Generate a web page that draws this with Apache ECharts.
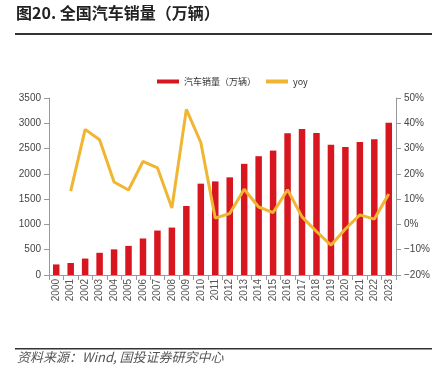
<!DOCTYPE html>
<html>
<head>
<meta charset="utf-8">
<script src="https://cdn.jsdelivr.net/npm/echarts@6/dist/echarts.min.js"></script>
<style>html,body{margin:0;padding:0;background:#fff;}#c{width:442px;height:381px;}</style>
</head>
<body>
<div id="c"></div>
<script>
const years = ['2000','2001','2002','2003','2004','2005','2006','2007','2008','2009','2010','2011','2012','2013','2014','2015','2016','2017','2018','2019','2020','2021','2022','2023'];
const sales = [209,237,325,439,507,576,722,879,938,1364,1806,1851,1931,2198,2349,2460,2803,2888,2808,2577,2531,2628,2686,3009];
const yoy = [null,13.2,37.6,33.5,16.8,13.6,24.9,22.4,6.5,45.5,32.4,2.5,4.3,13.9,6.9,4.7,13.7,3.0,-2.8,-8.2,-1.8,3.8,2.1,12.0];
const leftTicks = [0,3500,500];
const rightTicks = [-20,50,10];

const chart = echarts.init(document.getElementById('c'));
const font = '"Noto Sans CJK SC", "Liberation Sans", sans-serif';
chart.setOption({
  animation: false,
  textStyle: {fontFamily: font},
  graphic: [
    {type:'text', left:16, top:5, style:{text:'图20. 全国汽车销量（万辆）', font:'bold 16px "Noto Sans CJK SC"', fill:'#222'}},
    {type:'rect', shape:{x:15,y:33,width:417,height:2}, style:{fill:'#333'}},
    {type:'rect', shape:{x:15,y:348,width:417,height:1.5}, style:{fill:'#333'}},
    {type:'text', left:17, top:351, style:{text:'资料来源：Wind, 国投证券研究中心', font:'italic 13px "Noto Sans CJK SC"', fill:'#555'}}
  ],
  legend: {
    left: 152, top: 72,
    itemWidth: 22, itemHeight: 4, itemGap: 10,
    textStyle: {fontSize: 9, color:'#333', fontFamily: font},
    data: [
      {name:'汽车销量（万辆）', icon:'rect'},
      {name:'yoy', icon:'rect'}
    ]
  },
  grid: {left: 49, right: 46, top: 98, bottom: 106},
  xAxis: {
    type: 'category', data: years,
    axisLine: {lineStyle: {color: '#999'}},
    axisTick: {show: true, lineStyle: {color:'#999'}},
    axisLabel: {rotate: 90, fontSize: 10, color: '#555', fontFamily: '"Liberation Sans"', margin: 4}
  },
  yAxis: [
    {type:'value', min:leftTicks[0], max:leftTicks[1], interval:leftTicks[2],
     axisLine:{show:true, lineStyle:{color:'#999'}}, axisTick:{show:true, lineStyle:{color:'#999'}},
     splitLine:{show:false},
     axisLabel:{fontSize:10, color:'#444', fontFamily:'"Liberation Sans"', formatter: v => String(v)}},
    {type:'value', min:rightTicks[0], max:rightTicks[1], interval:rightTicks[2], position:'right',
     axisLine:{show:true, lineStyle:{color:'#999'}}, axisTick:{show:true, lineStyle:{color:'#999'}},
     splitLine:{show:false},
     axisLabel:{fontSize:10, color:'#444', fontFamily:'"Liberation Sans"', formatter: v => (v<0?'−':'') + Math.abs(v) + '%'}}
  ],
  series: [
    {name:'汽车销量（万辆）', type:'bar', data: sales, barWidth: 6.5, itemStyle:{color:'#d7161f'}},
    {name:'yoy', type:'line', yAxisIndex:1, data: yoy, symbol:'none', lineStyle:{width:3, color:'#f0b531'}, itemStyle:{color:'#f0b531'}}
  ]
});
</script>
</body>
</html>
